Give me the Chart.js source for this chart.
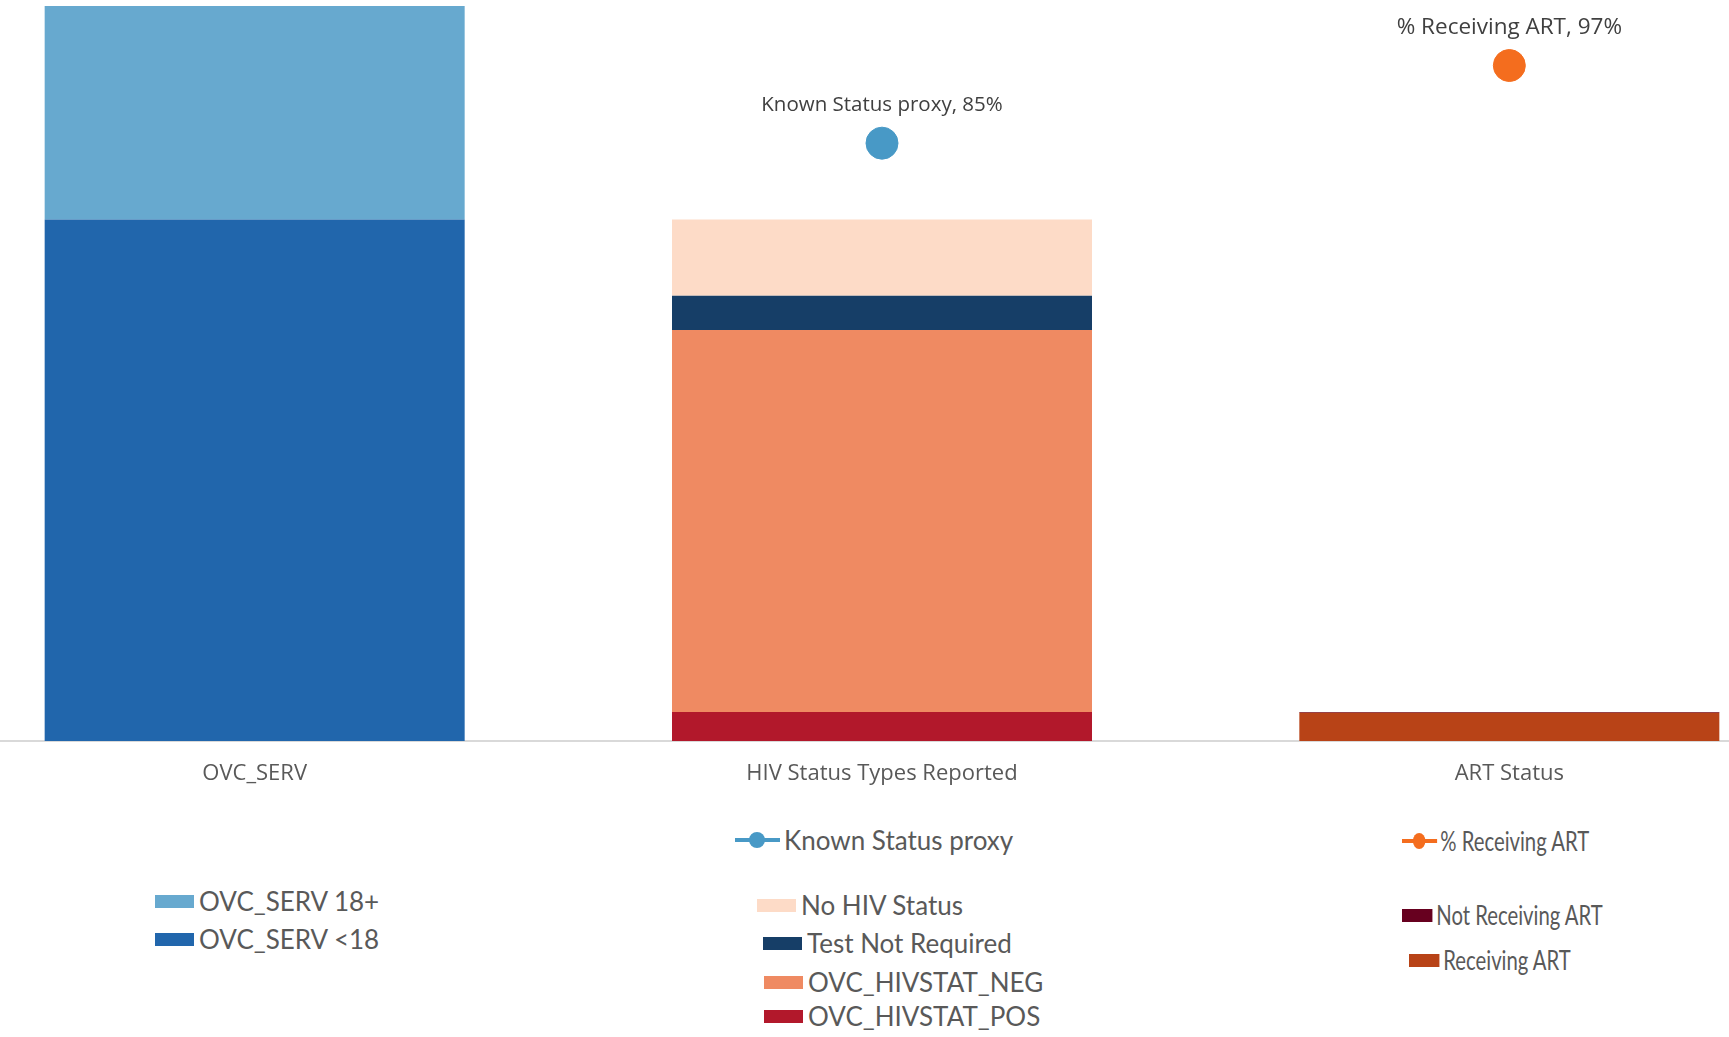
<!DOCTYPE html>
<html>
<head>
<meta charset="utf-8">
<script src="https://cdn.jsdelivr.net/npm/chart.js@4.4.1/dist/chart.umd.min.js"></script>
<style>
    html, body { margin: 0; padding: 0; background: #fff; overflow: hidden; }
    body { width: 1729px; height: 1037px; position: relative; }
    #wrap { position: absolute; left: -59px; top: 0; width: 1882px; height: 801px; }
    .legend { position: absolute; color: #595959; font-family: Lato, "Open Sans", sans-serif; font-size: 26px; }
    .item { position: absolute; white-space: nowrap; display: flex; align-items: center; height: 30px; }
    .sw { display: inline-block; width: 39px; height: 13px; margin-right: 5px; }
    .ln { position: relative; display: inline-block; width: 45px; height: 4px; margin-right: 4px; }
    .ln i { position: absolute; left: 14px; top: -6px; width: 16px; height: 16px; border-radius: 50%; }
    .narrow { transform: scaleX(0.78); transform-origin: left center; }
</style>
</head>
<body>
<div id="wrap"><canvas id="ovcChart"></canvas></div>
<div id="legend"></div>

<script>
const categories = ["OVC_SERV", "HIV Status Types Reported", "ART Status"];

// bar segments (one category each)
const ovcUnder18 = [52000, null, null];
const ovc18Plus = [21300, null, null];
const hivPos = [null, 2900, null];
const hivNeg = [null, 38100, null];
const testNotRequired = [null, 3400, null];
const noHivStatus = [null, 7600, null];
const receivingArt = [null, null, 2810];
const notReceivingArt = [null, null, 90];

// percentages (secondary axis)
const knownStatusProxy = [null, 85, null];
const pctReceivingArt = [null, null, 97];

const bar = (label, data, color) => ({
    type: "bar", label, data, backgroundColor: color,
    borderWidth: 0, stack: "s", yAxisID: "y", order: 2
});
const dot = (label, data, color, labelSize) => ({
    type: "line", label, data, borderColor: color, backgroundColor: color,
    pointRadius: 16, pointHoverRadius: 16, showLine: false, yAxisID: "y2", order: 1,
    labelSize
});

const datasets = [
    bar("OVC_SERV <18", ovcUnder18, "#2166ac"),
    bar("OVC_SERV 18+", ovc18Plus, "#67a9cf"),
    bar("OVC_HIVSTAT_POS", hivPos, "#b2182b"),
    bar("OVC_HIVSTAT_NEG", hivNeg, "#ef8a62"),
    bar("Test Not Required", testNotRequired, "#163e67"),
    bar("No HIV Status", noHivStatus, "#fddbc7"),
    bar("Receiving ART", receivingArt, "#b84317"),
    bar("Not Receiving ART", notReceivingArt, "#67001f"),
    dot("Known Status proxy", knownStatusProxy, "#4899c6", 20.5),
    dot("% Receiving ART", pctReceivingArt, "#f46d1e", 22.5)
];

// labels above the percentage points
const pointLabels = {
    id: "pointLabels",
    afterDatasetsDraw(chart) {
        const ctx = chart.ctx;
        ctx.save();
        ctx.fillStyle = "#404040";
        ctx.textAlign = "center";
        ctx.textBaseline = "middle";
        chart.data.datasets.forEach((ds, i) => {
            if (ds.type !== "line") return;
            ctx.font = ds.labelSize + "px 'Open Sans', sans-serif";
            chart.getDatasetMeta(i).data.forEach((pt, j) => {
                if (ds.data[j] == null) return;
                ctx.fillText(ds.label + ", " + ds.data[j] + "%", pt.x, pt.y - 38);
            });
        });
        ctx.restore();
    }
};

new Chart(document.getElementById("ovcChart").getContext("2d"), {
    data: { labels: categories, datasets: datasets },
    options: {
        responsive: true,
        maintainAspectRatio: false,
        animation: false,
        layout: { autoPadding: false, padding: { top: 6, left: 0, right: 0, bottom: 0 } },
        datasets: { bar: { barPercentage: 0.6695, categoryPercentage: 1 } },
        plugins: { legend: { display: false }, tooltip: { enabled: false } },
        scales: {
            x: {
                stacked: true,
                grid: { display: false },
                border: { display: true, color: "#d9d9d9", width: 2 },
                ticks: { color: "#595959", font: { family: "'Open Sans'", size: 22 }, padding: 12 },
                afterFit: (s) => { s.height = 60; }
            },
            y: { stacked: true, display: false, min: 0, max: 73300 },
            y2: { display: false, min: -7.4, max: 106.2 }
        }
    },
    plugins: [pointLabels]
});

// legend groups under each category
const legendGroups = [
    { cls: "", items: [
        { label: "OVC_SERV 18+", color: "#67a9cf", x: 155, y: 903 },
        { label: "OVC_SERV <18", color: "#2166ac", x: 155, y: 941 }
    ] },
    { cls: "", items: [
        { label: "Known Status proxy", color: "#4899c6", x: 735, y: 842, line: true },
        { label: "No HIV Status", color: "#fddbc7", x: 757, y: 907 },
        { label: "Test Not Required", color: "#163e67", x: 763, y: 945 },
        { label: "OVC_HIVSTAT_NEG", color: "#ef8a62", x: 764, y: 984 },
        { label: "OVC_HIVSTAT_POS", color: "#b2182b", x: 764, y: 1018 }
    ] },
    { cls: "narrow", items: [
        { label: "% Receiving ART", color: "#f46d1e", x: 1402, y: 843, line: true },
        { label: "Not Receiving ART", color: "#67001f", x: 1402, y: 917 },
        { label: "Receiving ART", color: "#b84317", x: 1409, y: 962 }
    ] }
];

const legendEl = document.getElementById("legend");
legendGroups.forEach(g => {
    g.items.forEach(it => {
        const d = document.createElement("div");
        d.className = "legend item " + g.cls;
        d.style.left = it.x + "px";
        d.style.top = (it.y - 17) + "px";
        if (it.line) {
            d.innerHTML = '<span class="ln" style="background:' + it.color + '"><i style="background:' + it.color + '"></i></span>' + it.label;
        } else {
            d.innerHTML = '<span class="sw" style="background:' + it.color + '"></span>' + it.label;
        }
        legendEl.appendChild(d);
    });
});
</script>
</body>
</html>
